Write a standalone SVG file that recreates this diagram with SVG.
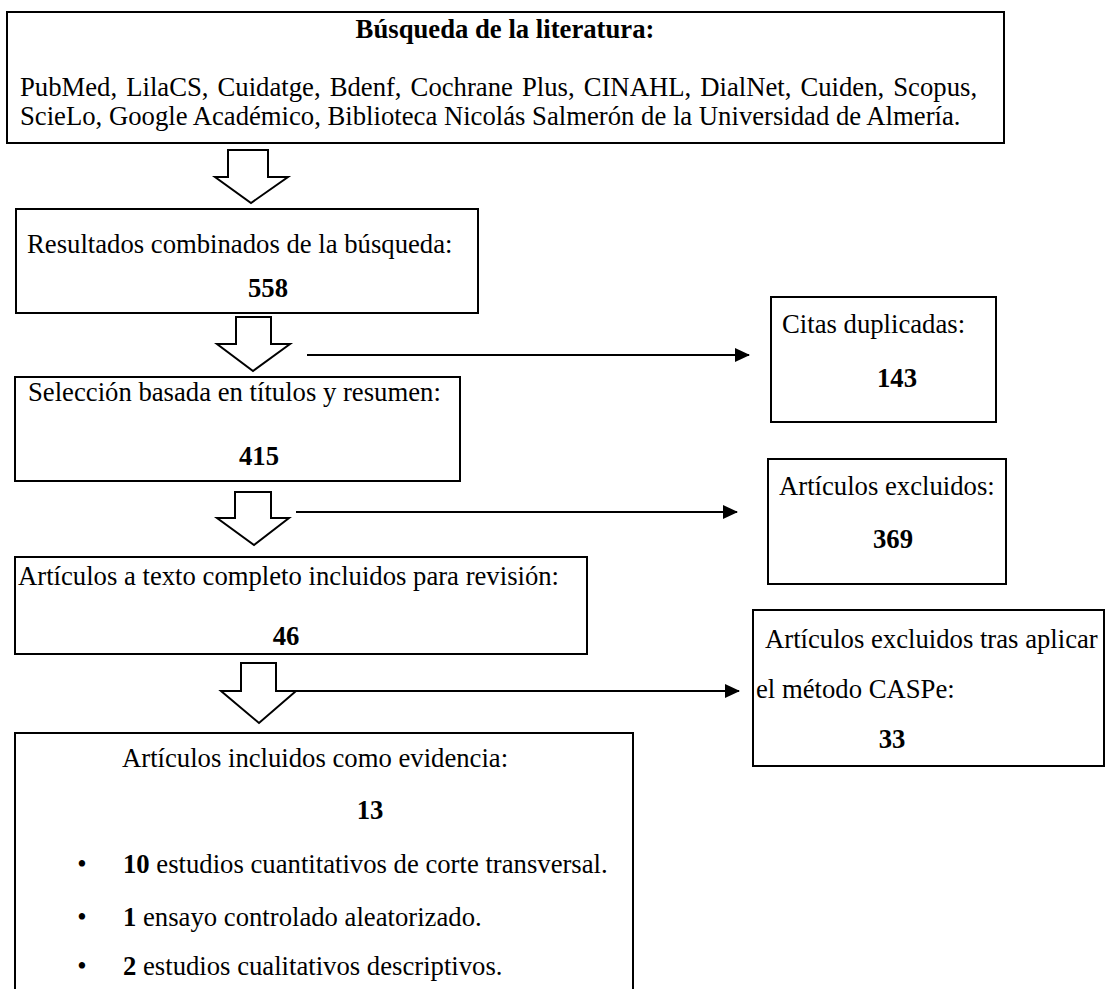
<svg xmlns="http://www.w3.org/2000/svg" width="1105" height="989" viewBox="0 0 1105 989">
<defs>
<style>
.box{fill:#fff;stroke:#000;stroke-width:2}
.blk{fill:#fff;stroke:#000;stroke-width:2;stroke-linejoin:miter}
.t{font-family:"Liberation Serif","Times New Roman",serif;font-size:26.7px;fill:#000}
.b{font-weight:bold}
.m{text-anchor:middle}
.con{stroke:#000;stroke-width:2;fill:none}
</style>
<marker id="ah" markerUnits="userSpaceOnUse" markerWidth="15" markerHeight="14" refX="14" refY="7" orient="auto"><path d="M0,0 L15,7 L0,14 z" fill="#000"/></marker>
</defs>
<rect width="1105" height="989" fill="#fff"/>
<g id="connectors">
<polygon class="blk" points="228,150 268,150 268,177 288,177 251,203 215,177 228,177"/>
<polygon class="blk" points="236,317 271,317 271,344 290,344 253,371 217,344 236,344"/>
<polygon class="blk" points="235,492 271,492 271,518 289,518 254,545 217,518 235,518"/>
<polygon class="blk" points="241,663 276,663 276,691 296,691 259,723 221,691 241,691"/>
<line class="con" x1="307" y1="355" x2="749" y2="355" marker-end="url(#ah)"/>
<line class="con" x1="296" y1="512" x2="737" y2="512" marker-end="url(#ah)"/>
<line class="con" x1="296" y1="691" x2="739" y2="691" marker-end="url(#ah)"/>
</g>
<g id="busqueda">
<rect class="box" x="7" y="12" width="997" height="131"/>
<text class="t b m" x="505" y="38">Búsqueda de la literatura:</text>
<text class="t" x="20" y="96" word-spacing="2.4">PubMed, LilaCS, Cuidatge, Bdenf, Cochrane Plus, CINAHL, DialNet, Cuiden, Scopus,</text>
<text class="t" x="20" y="125">ScieLo, Google Académico, Biblioteca Nicolás Salmerón de la Universidad de Almería.</text>
</g>
<g id="resultados">
<rect class="box" x="16" y="209" width="462" height="104"/>
<text class="t" x="27" y="253">Resultados combinados de la búsqueda:</text>
<text class="t b m" x="268" y="297">558</text>
</g>
<g id="citas">
<rect class="box" x="771" y="297" width="225" height="125"/>
<text class="t" x="782" y="333">Citas duplicadas:</text>
<text class="t b m" x="897" y="387">143</text>
</g>
<g id="seleccion">
<rect class="box" x="15" y="377" width="445" height="104"/>
<text class="t" x="28" y="401">Selección basada en títulos y resumen:</text>
<text class="t b m" x="259" y="465">415</text>
</g>
<g id="excluidos">
<rect class="box" x="768" y="459" width="238" height="125"/>
<text class="t" x="779" y="495">Artículos excluidos:</text>
<text class="t b m" x="893" y="548">369</text>
</g>
<g id="texto-completo">
<rect class="box" x="15" y="557" width="572" height="97"/>
<text class="t" x="18" y="585">Artículos a texto completo incluidos para revisión:</text>
<text class="t b m" x="286" y="645">46</text>
</g>
<g id="caspe">
<rect class="box" x="753" y="610" width="351" height="156"/>
<text class="t" x="765" y="648">Artículos excluidos tras aplicar</text>
<text class="t" x="756" y="698">el método CASPe:</text>
<text class="t b m" x="892" y="748">33</text>
</g>
<g id="incluidos">
<rect class="box" x="15" y="733" width="618" height="270"/>
<text class="t" x="122" y="767">Artículos incluidos como evidencia:</text>
<text class="t b m" x="370" y="819">13</text>
<text class="t m" x="82" y="873">•</text>
<text class="t" x="123" y="873"><tspan class="b">10</tspan> estudios cuantitativos de corte transversal.</text>
<text class="t m" x="82" y="926">•</text>
<text class="t" x="123" y="926"><tspan class="b">1</tspan> ensayo controlado aleatorizado.</text>
<text class="t m" x="82" y="975">•</text>
<text class="t" x="123" y="975"><tspan class="b">2</tspan> estudios cualitativos descriptivos.</text>
</g>
</svg>
